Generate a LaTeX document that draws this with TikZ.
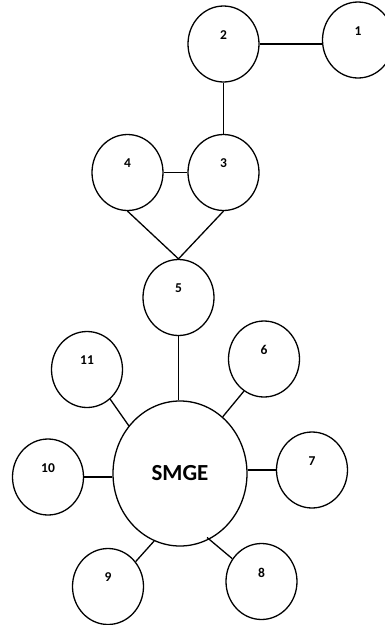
\documentclass[tikz,border=0pt]{standalone}
\usepackage{fontspec}
\setmainfont{Carlito}
\usetikzlibrary{shapes.geometric}

\tikzset{
  bubble/.style={draw, line width=1.3pt, ellipse, minimum width=71pt, minimum height=76pt, inner sep=0pt},
  hub/.style={draw, line width=1.3pt, ellipse, minimum width=134pt, minimum height=145pt, inner sep=0pt},
  numtext/.style={font=\fontsize{13.5}{14}\selectfont\bfseries, inner sep=0pt},
  link/.style={line width=1.3pt},
}
% bubble with its number set a little above the middle
\newcommand{\numbubble}[3]{\node[bubble, label={[numtext, yshift=9pt]center:#3}] (#1) at #2 {};}

\begin{document}
\begin{tikzpicture}[x=1pt, y=-1pt]
\useasboundingbox (0,0) rectangle (384,625);

% top chain
\numbubble{n1}{(358,40)}{1}
\numbubble{n2}{(223.5,44)}{2}
\numbubble{n3}{(223.5,172.5)}{3}
\numbubble{n4}{(127.5,172.5)}{4}
\numbubble{n5}{(178.5,297.5)}{5}

% central hub
\node[hub, font=\fontsize{23}{24}\selectfont\bfseries] (smge) at (180,473.5) {\raisebox{-8.5pt}{SMGE}};

% satellites around the hub
\numbubble{n6}{(264,359)}{6}
\numbubble{n7}{(312,470)}{7}
\numbubble{n8}{(261.5,581.5)}{8}
\numbubble{n9}{(108,586.5)}{9}
\numbubble{n10}{(48,477)}{10}
\numbubble{n11}{(87,369.5)}{11}

% connectors
\draw[link] (n2.east) -- (n2.east -| n1.west);
\draw[link] (n2.south) -- (n3.north);
\draw[link] (n4.east) -- (n3.west);
\draw[link] (n4.south) -- (n5.north);
\draw[link] (n3.south) -- (n5.north);
\draw[link] (n5.south) -- (n5.south |- smge.north);
\draw[link] (smge.53) -- (n6.-122);
\draw[link] (n7.west) -- (n7.west -| smge.east);
\draw[link, shorten <=-3pt] (smge.-66) -- (n8.142);
\draw[link] (smge.-111) -- (n9.42);
\draw[link] (n10.east) -- (n10.east -| smge.west);
\draw[link] (n11.-52) -- (smge.137);
\end{tikzpicture}
\end{document}
